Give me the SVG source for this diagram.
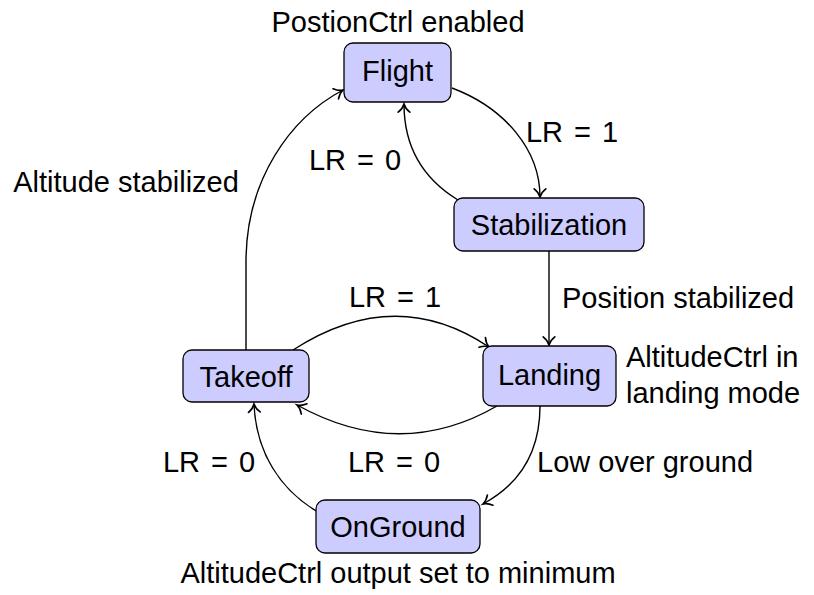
<svg xmlns="http://www.w3.org/2000/svg" width="814" height="595" viewBox="0 0 814 595">
<style>
.node rect{fill:#ccccff;stroke:#000;stroke-width:1.3}
text{font-family:"Liberation Sans",Arial,sans-serif;font-size:29px;fill:#000}
.c{text-anchor:middle}
.lr{word-spacing:3px}
.edge{fill:none;stroke:#000;stroke-width:1.4;marker-end:url(#arr)}
</style>
<defs>
<marker id="arr" markerUnits="userSpaceOnUse" markerWidth="14" markerHeight="14" viewBox="-8 -6 10 12" refX="0" refY="0" orient="auto">
<path d="M-7,-5 C-4.5,-1.8 -1.5,-0.4 0,0 C-1.5,0.4 -4.5,1.8 -7,5" fill="none" stroke="#000" stroke-width="1.4" stroke-linecap="round"/>
</marker>
</defs>
<rect width="814" height="595" fill="#fff"/>
<g id="connectors">
<path class="edge" d="M452,88 C505,108 540,150 540,197"/>
<path class="edge" d="M458,200 C422,178 404,145 404,104"/>
<path class="edge" d="M549,251 L549,345"/>
<path class="edge" d="M246,350 L246,262 C246,180 290,118 343,90"/>
<path class="edge" d="M293,350 Q395,284 489,347"/>
<path class="edge" d="M497,406 Q400,462 297,405"/>
<path class="edge" d="M540,406 C540,452 520,484 483,504"/>
<path class="edge" d="M318,512 C280,490 256,452 254,404"/>
</g>
<g id="labels">
<text class="c" x="398" y="32">PostionCtrl enabled</text>
<text class="c lr" x="572" y="142">LR = 1</text>
<text class="c lr" x="355" y="170">LR = 0</text>
<text class="c" x="126" y="192">Altitude stabilized</text>
<text x="562" y="308">Position stabilized</text>
<text class="c lr" x="395" y="307">LR = 1</text>
<text x="626" y="367">AltitudeCtrl in</text>
<text x="626" y="403">landing mode</text>
<text class="c lr" x="394" y="472">LR = 0</text>
<text class="c lr" x="209" y="472">LR = 0</text>
<text x="537" y="472">Low over ground</text>
<text class="c" x="398" y="583">AltitudeCtrl output set to minimum</text>
</g>
<g id="flight" class="node">
<rect x="344" y="43" width="107" height="59" rx="9"/>
<text class="c" x="397.5" y="81">Flight</text>
</g>
<g id="stabilization" class="node">
<rect x="454" y="198" width="190" height="53" rx="9"/>
<text class="c" x="549" y="235">Stabilization</text>
</g>
<g id="landing" class="node">
<rect x="483" y="346" width="133" height="60" rx="9"/>
<text class="c" x="549.5" y="385">Landing</text>
</g>
<g id="takeoff" class="node">
<rect x="183" y="350" width="126" height="52" rx="9"/>
<text class="c" x="246" y="387">Takeoff</text>
</g>
<g id="onground" class="node">
<rect x="316" y="500" width="164" height="53" rx="9"/>
<text class="c" x="398" y="537">OnGround</text>
</g>
</svg>
